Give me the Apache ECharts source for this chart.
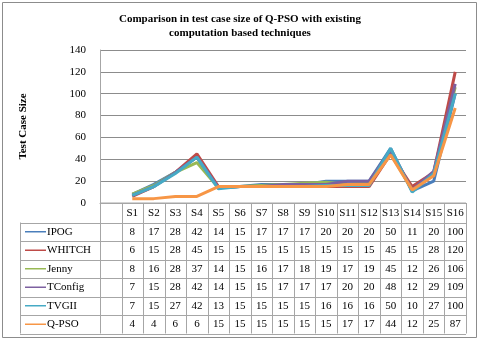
<!DOCTYPE html>
<html>
<head>
<meta charset="utf-8">
<script src="https://cdn.jsdelivr.net/npm/echarts@6/dist/echarts.min.js"></script>
<style>
  html, body { margin: 0; padding: 0; background: #fff; }
  #chart { width: 480px; height: 341px; }
</style>
</head>
<body>
<div id="chart"></div>
<script>
var categories = ['S1','S2','S3','S4','S5','S6','S7','S8','S9','S10','S11','S12','S13','S14','S15','S16'];
var seriesNames = ['IPOG', 'WHITCH', 'Jenny', 'TConfig', 'TVGII', 'Q-PSO'];
var ipog    = [8, 17, 28, 42, 14, 15, 17, 17, 17, 20, 20, 20, 50, 11, 20, 100];
var whitch  = [6, 15, 28, 45, 15, 15, 15, 15, 15, 15, 15, 15, 45, 15, 28, 120];
var jenny   = [8, 16, 28, 37, 14, 15, 16, 17, 18, 19, 17, 19, 45, 12, 26, 106];
var tconfig = [7, 15, 28, 42, 14, 15, 15, 17, 17, 17, 20, 20, 48, 12, 29, 109];
var tvgii   = [7, 15, 27, 42, 13, 15, 15, 15, 15, 16, 16, 16, 50, 10, 27, 100];
var qpso    = [4, 4, 6, 6, 15, 15, 15, 15, 15, 15, 17, 17, 44, 12, 25, 87];
var yTicks  = [0, 20, 40, 60, 80, 100, 120, 140];

var allValues = [ipog, whitch, jenny, tconfig, tvgii, qpso];
var colors = ['#4a7ebb', '#be4b48', '#98b954', '#7d60a0', '#46aac5', '#f79646'];
var serif = '"Liberation Serif", "DejaVu Serif", serif';
var lineGray = '#a6a6a6';

var chart = echarts.init(document.getElementById('chart'));

// blank first column, like the empty column next to the table legend keys
var xCats = [''].concat(categories);

var series = seriesNames.map(function (name, i) {
  return {
    name: name,
    type: 'line',
    data: [null].concat(allValues[i]),
    showSymbol: false,
    lineStyle: { width: 3, color: colors[i] },
    itemStyle: { color: colors[i] },
    silent: true
  };
});

chart.setOption({
  animation: false,
  backgroundColor: '#fff',
  title: {
    text: 'Comparison in test case size of Q-PSO with existing\ncomputation based techniques',
    left: 'center',
    top: 7,
    textStyle: { fontFamily: serif, fontWeight: 'bold', fontSize: 11, lineHeight: 14, color: '#000' }
  },
  grid: { left: 100, right: 14, top: 50, bottom: 138 },
  xAxis: {
    type: 'category',
    data: xCats,
    boundaryGap: true,
    axisLine: { show: true, lineStyle: { color: lineGray } },
    axisTick: { show: false },
    axisLabel: { show: false },
    splitLine: { show: false }
  },
  yAxis: {
    type: 'value',
    min: yTicks[0],
    max: yTicks[yTicks.length - 1],
    interval: 20,
    name: 'Test Case Size',
    nameLocation: 'middle',
    nameRotate: 90,
    nameGap: 71,
    nameTextStyle: { fontFamily: serif, fontWeight: 'bold', fontSize: 11, color: '#000' },
    axisLine: { show: true, lineStyle: { color: lineGray } },
    axisTick: { show: false },
    axisLabel: { fontFamily: serif, fontSize: 11, color: '#000', margin: 14 },
    splitLine: { lineStyle: { color: '#8c8c8c', width: 1 } }
  },
  series: series
});

// data table under the plot
function buildTable() {
  var c1 = chart.convertToPixel({ xAxisIndex: 0 }, 'S1');
  var c2 = chart.convertToPixel({ xAxisIndex: 0 }, 'S2');
  var bw = c2 - c1;
  var x0 = c1 - bw * 1.5;           // left edge of the blank column (= y axis)
  var xEnd = c1 + bw * (categories.length - 0.5);
  var top = chart.convertToPixel({ yAxisIndex: 0 }, 0);
  var headH = 19.5;
  var rowH = 18.5;
  var legLeft = 20;
  var bodyTop = top + headH;
  var bottom = bodyTop + rowH * seriesNames.length;
  var els = [];
  var ls = { stroke: lineGray, lineWidth: 1 };

  // outer frame
  els.push({ type: 'rect', shape: { x: 2.5, y: 2.5, width: 474, height: 335 },
    style: { fill: null, stroke: '#8c8c8c', lineWidth: 1 }, silent: true });

  // horizontal lines
  els.push({ type: 'line', shape: { x1: x0, y1: top, x2: xEnd, y2: top }, style: ls, silent: true });
  for (var r = 0; r <= seriesNames.length; r++) {
    var y = Math.round(bodyTop + r * rowH) + 0.5;
    els.push({ type: 'line', shape: { x1: legLeft, y1: y, x2: xEnd, y2: y }, style: ls, silent: true });
  }
  // vertical lines
  els.push({ type: 'line', shape: { x1: legLeft + 0.5, y1: bodyTop, x2: legLeft + 0.5, y2: bottom }, style: ls, silent: true });
  for (var k = 0; k <= categories.length + 1; k++) {
    var x = Math.round(x0 + k * bw) + 0.5;
    els.push({ type: 'line', shape: { x1: x, y1: top, x2: x, y2: bottom }, style: ls, silent: true });
  }
  // header labels
  categories.forEach(function (cat, j) {
    els.push({ type: 'text', silent: true, style: {
      text: cat, x: c1 + j * bw, y: top + headH / 2, align: 'center', verticalAlign: 'middle',
      font: '11px ' + serif, fill: '#000' } });
  });
  // body rows
  seriesNames.forEach(function (name, i) {
    var cy = bodyTop + rowH * i + rowH / 2;
    els.push({ type: 'line', silent: true, shape: { x1: 25, y1: cy, x2: 46, y2: cy },
      style: { stroke: colors[i], lineWidth: 1.5 } });
    els.push({ type: 'text', silent: true, style: {
      text: name, x: 47, y: cy, align: 'left', verticalAlign: 'middle',
      font: '11px ' + serif, fill: '#000' } });
    allValues[i].forEach(function (v, j) {
      els.push({ type: 'text', silent: true, style: {
        text: String(v), x: c1 + j * bw, y: cy, align: 'center', verticalAlign: 'middle',
        font: '11px ' + serif, fill: '#000' } });
    });
  });
  chart.setOption({ graphic: { elements: els } });
}
buildTable();
</script>
</body>
</html>
